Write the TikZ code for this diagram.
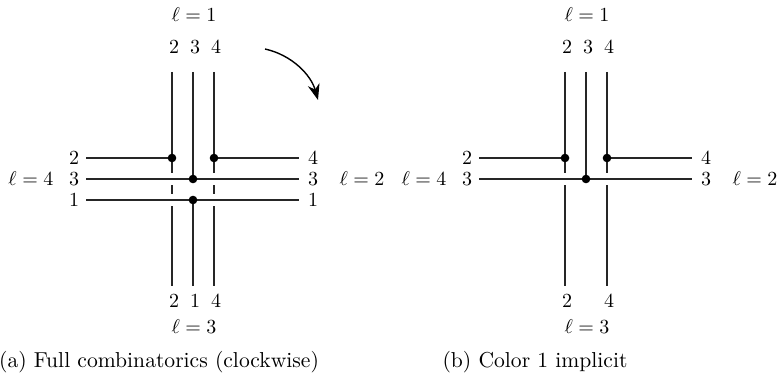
\documentclass[tikz,border=0pt]{standalone}
\usetikzlibrary{arrows.meta}
\begin{document}
\begin{tikzpicture}[x=0.5pt,y=-0.5pt,
  wire/.style={line width=0.7pt, draw=black!85},
  dotc/.style={circle, fill=black, inner sep=0pt, minimum size=4.3pt},
  lab/.style={font=\fontsize{9.8}{11}\selectfont, inner sep=0pt},
  captext/.style={font=\fontsize{10.8}{13}\selectfont, inner sep=0pt, anchor=base}]
\useasboundingbox (0,0) rectangle (779,385);
% ---------- panel (a) ----------
\foreach \n/\x in {A/172,B/193,C/214}{
  \coordinate (a\n t) at (\x,72);
  \coordinate (a\n b) at (\x,286);
}
\foreach \n/\y in {P/158,Q/179,R/200}{
  \coordinate (a\n l) at (86,\y);
  \coordinate (a\n r) at (299,\y);
}
\coordinate (aAP) at (172,158);
\coordinate (aCP) at (214,158);
\coordinate (aBQ) at (193,179);
\coordinate (aBR) at (193,200);
% horizontal wires
\draw[wire] (aPl) -- (aAP);
\draw[wire] (aCP) -- (aPr);
\draw[wire] (aQl) -- (aQr);
\draw[wire] (aRl) -- (aRr);
% vertical wires
\draw[wire] (aAt) -- (aAP) -- (172,173) (172,185) -- (172,194) (172,206) -- (aAb);
\draw[wire] (aCt) -- (aCP) -- (214,173) (214,185) -- (214,194) (214,206) -- (aCb);
\draw[wire] (aBt) -- (aBQ);
\draw[wire] (aBR) -- (aBb);
\foreach \p in {aAP,aCP,aBQ,aBR} \node[dotc] at (\p) {};
% labels
\node[lab] (aT2) at (174,47) {$2$};
\node[lab] (aT3) at (195,47) {$3$};
\node[lab] (aT4) at (216,47) {$4$};
\node[lab] (aL1) at (194,15) {$\ell=1$};
\node[lab] (aB2) at (174,301) {$2$};
\node[lab] (aB1) at (195,301) {$1$};
\node[lab] (aB4) at (216,301) {$4$};
\node[lab] (aL3) at (194,327) {$\ell=3$};
\node[lab] (aW2) at (74,158) {$2$};
\node[lab] (aW3) at (74,179) {$3$};
\node[lab] (aW1) at (74,200) {$1$};
\node[lab] (aL4) at (31,179) {$\ell=4$};
\node[lab] (aE4) at (313,158) {$4$};
\node[lab] (aE3) at (313,179) {$3$};
\node[lab] (aE1) at (313,200) {$1$};
\node[lab] (aL2) at (362,179) {$\ell=2$};
% rotation arrow
\coordinate (arS) at (265,49);
\coordinate (arE) at (318,100);
\draw[line width=0.7pt, -{Stealth[length=8pt,width=6pt]}] (arS) .. controls (292,55) and (311,75) .. (arE);
\node[captext] (capa) at (159,367) {(a) Full combinatorics (clockwise)};
% ---------- panel (b) ----------
\foreach \n/\x in {A/565,B/586,C/607}{
  \coordinate (b\n t) at (\x,72);
  \coordinate (b\n b) at (\x,286);
}
\foreach \n/\y in {P/158,Q/179}{
  \coordinate (b\n l) at (479,\y);
  \coordinate (b\n r) at (692,\y);
}
\coordinate (bAP) at (565,158);
\coordinate (bCP) at (607,158);
\coordinate (bBQ) at (586,179);
\draw[wire] (bPl) -- (bAP);
\draw[wire] (bCP) -- (bPr);
\draw[wire] (bQl) -- (bQr);
\draw[wire] (bAt) -- (bAP) -- (565,173) (565,185) -- (bAb);
\draw[wire] (bCt) -- (bCP) -- (607,173) (607,185) -- (bCb);
\draw[wire] (bBt) -- (bBQ);
\foreach \p in {bAP,bCP,bBQ} \node[dotc] at (\p) {};
\node[lab] (bT2) at (567,47) {$2$};
\node[lab] (bT3) at (588,47) {$3$};
\node[lab] (bT4) at (609,47) {$4$};
\node[lab] (bL1) at (587,15) {$\ell=1$};
\node[lab] (bB2) at (567,301) {$2$};
\node[lab] (bB4) at (609,301) {$4$};
\node[lab] (bL3) at (587,327) {$\ell=3$};
\node[lab] (bW2) at (467,158) {$2$};
\node[lab] (bW3) at (467,179) {$3$};
\node[lab] (bL4) at (424,179) {$\ell=4$};
\node[lab] (bE4) at (706,158) {$4$};
\node[lab] (bE3) at (706,179) {$3$};
\node[lab] (bL2) at (755,179) {$\ell=2$};
\node[captext] (capb) at (535,367) {(b) Color 1 implicit};
\end{tikzpicture}
\end{document}
